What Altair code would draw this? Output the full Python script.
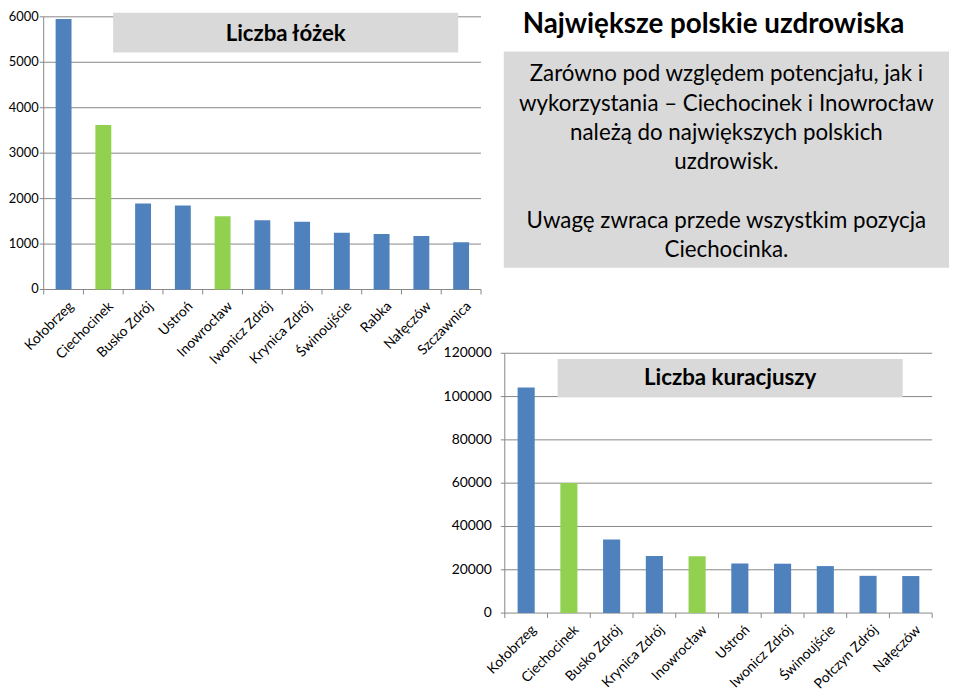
import altair as alt
import pandas as pd

# ---------------- data ----------------
beds_cities = ["Kołobrzeg", "Ciechocinek", "Busko Zdrój", "Ustroń", "Inowrocław",
               "Iwonicz Zdrój", "Krynica Zdrój", "Świnoujście", "Rabka", "Nałęczów", "Szczawnica"]
beds_values = [5950, 3620, 1890, 1850, 1610, 1525, 1490, 1250, 1220, 1175, 1040]
beds_ticks = [0, 1000, 2000, 3000, 4000, 5000, 6000]

patients_cities = ["Kołobrzeg", "Ciechocinek", "Busko Zdrój", "Krynica Zdrój", "Inowrocław",
                   "Ustroń", "Iwonicz Zdrój", "Świnoujście", "Połczyn Zdrój", "Nałęczów"]
patients_values = [104200, 60100, 34000, 26400, 26200, 22900, 22800, 21700, 17200, 17100]
patients_ticks = [0, 20000, 40000, 60000, 80000, 100000, 120000]

highlighted = ["Ciechocinek", "Inowrocław"]

main_title = "Największe polskie uzdrowiska"
beds_title = "Liczba łóżek"
patients_title = "Liczba kuracjuszy"
note_para1 = ["Zarówno pod względem potencjału, jak i",
              "wykorzystania – Ciechocinek i Inowrocław",
              "należą do największych polskich",
              "uzdrowisk."]
note_para2 = ["Uwagę zwraca przede wszystkim pozycja",
              "Ciechocinka."]

# ---------------- style ----------------
W, H = 951, 684
FONT = "Lato"
BLUE, GREEN = "#4F81BD", "#92D050"
GRID = "#878787"
BOX = "#D9D9D9"
AXIS_FS = 14

color = alt.Color("group:N",
                  scale=alt.Scale(domain=["other", "highlight"], range=[BLUE, GREEN]),
                  legend=None)

one = pd.DataFrame({"a": [0]})


def bar_panel(cities, values, ticks, x0, x1, y_top, y_zero, ylab_gap, ylab_fs):
    df = pd.DataFrame({"city": cities, "value": values})
    df["group"] = ["highlight" if c in highlighted else "other" for c in cities]
    tdf = pd.DataFrame({"tick": ticks})
    step = (x1 - x0) / len(cities)
    xscale = alt.Scale(domain=cities, range=[x0, x1], paddingInner=0.6, paddingOuter=0.3)
    yscale = alt.Scale(domain=[ticks[0], ticks[-1]], range=[y_zero, y_top], nice=False)
    xc = alt.X("city:N", scale=xscale, axis=None)
    yt = alt.Y("tick:Q", scale=yscale, axis=None)

    grid = alt.Chart(tdf).mark_rule(color=GRID, strokeWidth=1).encode(
        y=yt, x=alt.value(x0), x2=alt.value(x1))
    y_domain = alt.Chart(one).mark_rule(color=GRID, strokeWidth=1).encode(
        x=alt.value(x0), y=alt.value(y_top), y2=alt.value(y_zero + 5))
    y_ticks = alt.Chart(tdf).mark_rule(color=GRID, strokeWidth=1).encode(
        y=yt, x=alt.value(x0 - 4), x2=alt.value(x0))
    y_labels = alt.Chart(tdf).mark_text(
        font=FONT, fontSize=ylab_fs, align="right", baseline="middle", color="black"
    ).encode(y=yt, x=alt.value(x0 - ylab_gap), text=alt.Text("tick:Q", format="d"))
    x_ticks = alt.Chart(df).mark_rule(color=GRID, strokeWidth=1, xOffset=step / 2).encode(
        x=xc, y=alt.value(y_zero), y2=alt.value(y_zero + 5))
    x_labels = alt.Chart(df).mark_text(
        font=FONT, fontSize=AXIS_FS, align="right", baseline="top", angle=315,
        color="black", xOffset=3
    ).encode(x=xc, y=alt.value(y_zero + 10), text="city:N")
    bars = alt.Chart(df).mark_bar().encode(
        x=xc, y=alt.Y("value:Q", scale=yscale, axis=None), color=color)
    return alt.layer(grid, y_domain, y_ticks, y_labels, x_ticks, x_labels, bars)


top = bar_panel(beds_cities, beds_values, beds_ticks, 36, 477, 6, 281, 5, 13)
bottom = bar_panel(patients_cities, patients_values, patients_ticks, 501, 932, 345.3, 607.3, 13, AXIS_FS)


def box(x0, x1, y0, y1):
    return alt.Chart(one).mark_rect(color=BOX).encode(
        x=alt.value(x0), x2=alt.value(x1), y=alt.value(y0), y2=alt.value(y1))


def label(text, x, y, size, bold=True, align="center", line_height=None):
    kw = dict(font=FONT, fontSize=size, fontWeight="bold" if bold else "normal",
              align=align, baseline="alphabetic", color="black")
    if line_height:
        kw["lineHeight"] = line_height
    return alt.Chart(one).mark_text(**kw).encode(
        x=alt.value(x), y=alt.value(y), text=alt.value(text))


deco = alt.layer(
    box(106, 454, 2, 42),
    label(beds_title, 280, 30, 22.4),
    box(554.3, 902.3, 351, 389.7),
    label(patients_title, 728.3, 377.7, 22.5),
    label(main_title, 519, 22, 28, align="left"),
    box(500, 949, 41, 259),
    label(note_para1, 724.5, 71, 22.5, bold=False, line_height=29.5),
    label(note_para2, 724.5, 219, 22.5, bold=False, line_height=29.5),
)

chart = alt.layer(top, bottom, deco).resolve_scale(
    x="independent", y="independent", color="shared"
).properties(
    width=W, height=H, autosize=alt.AutoSizeParams(type="none"), padding=0
).configure_view(stroke=None)

chart.save("out.html", embed_options={"renderer": "svg", "actions": False})
